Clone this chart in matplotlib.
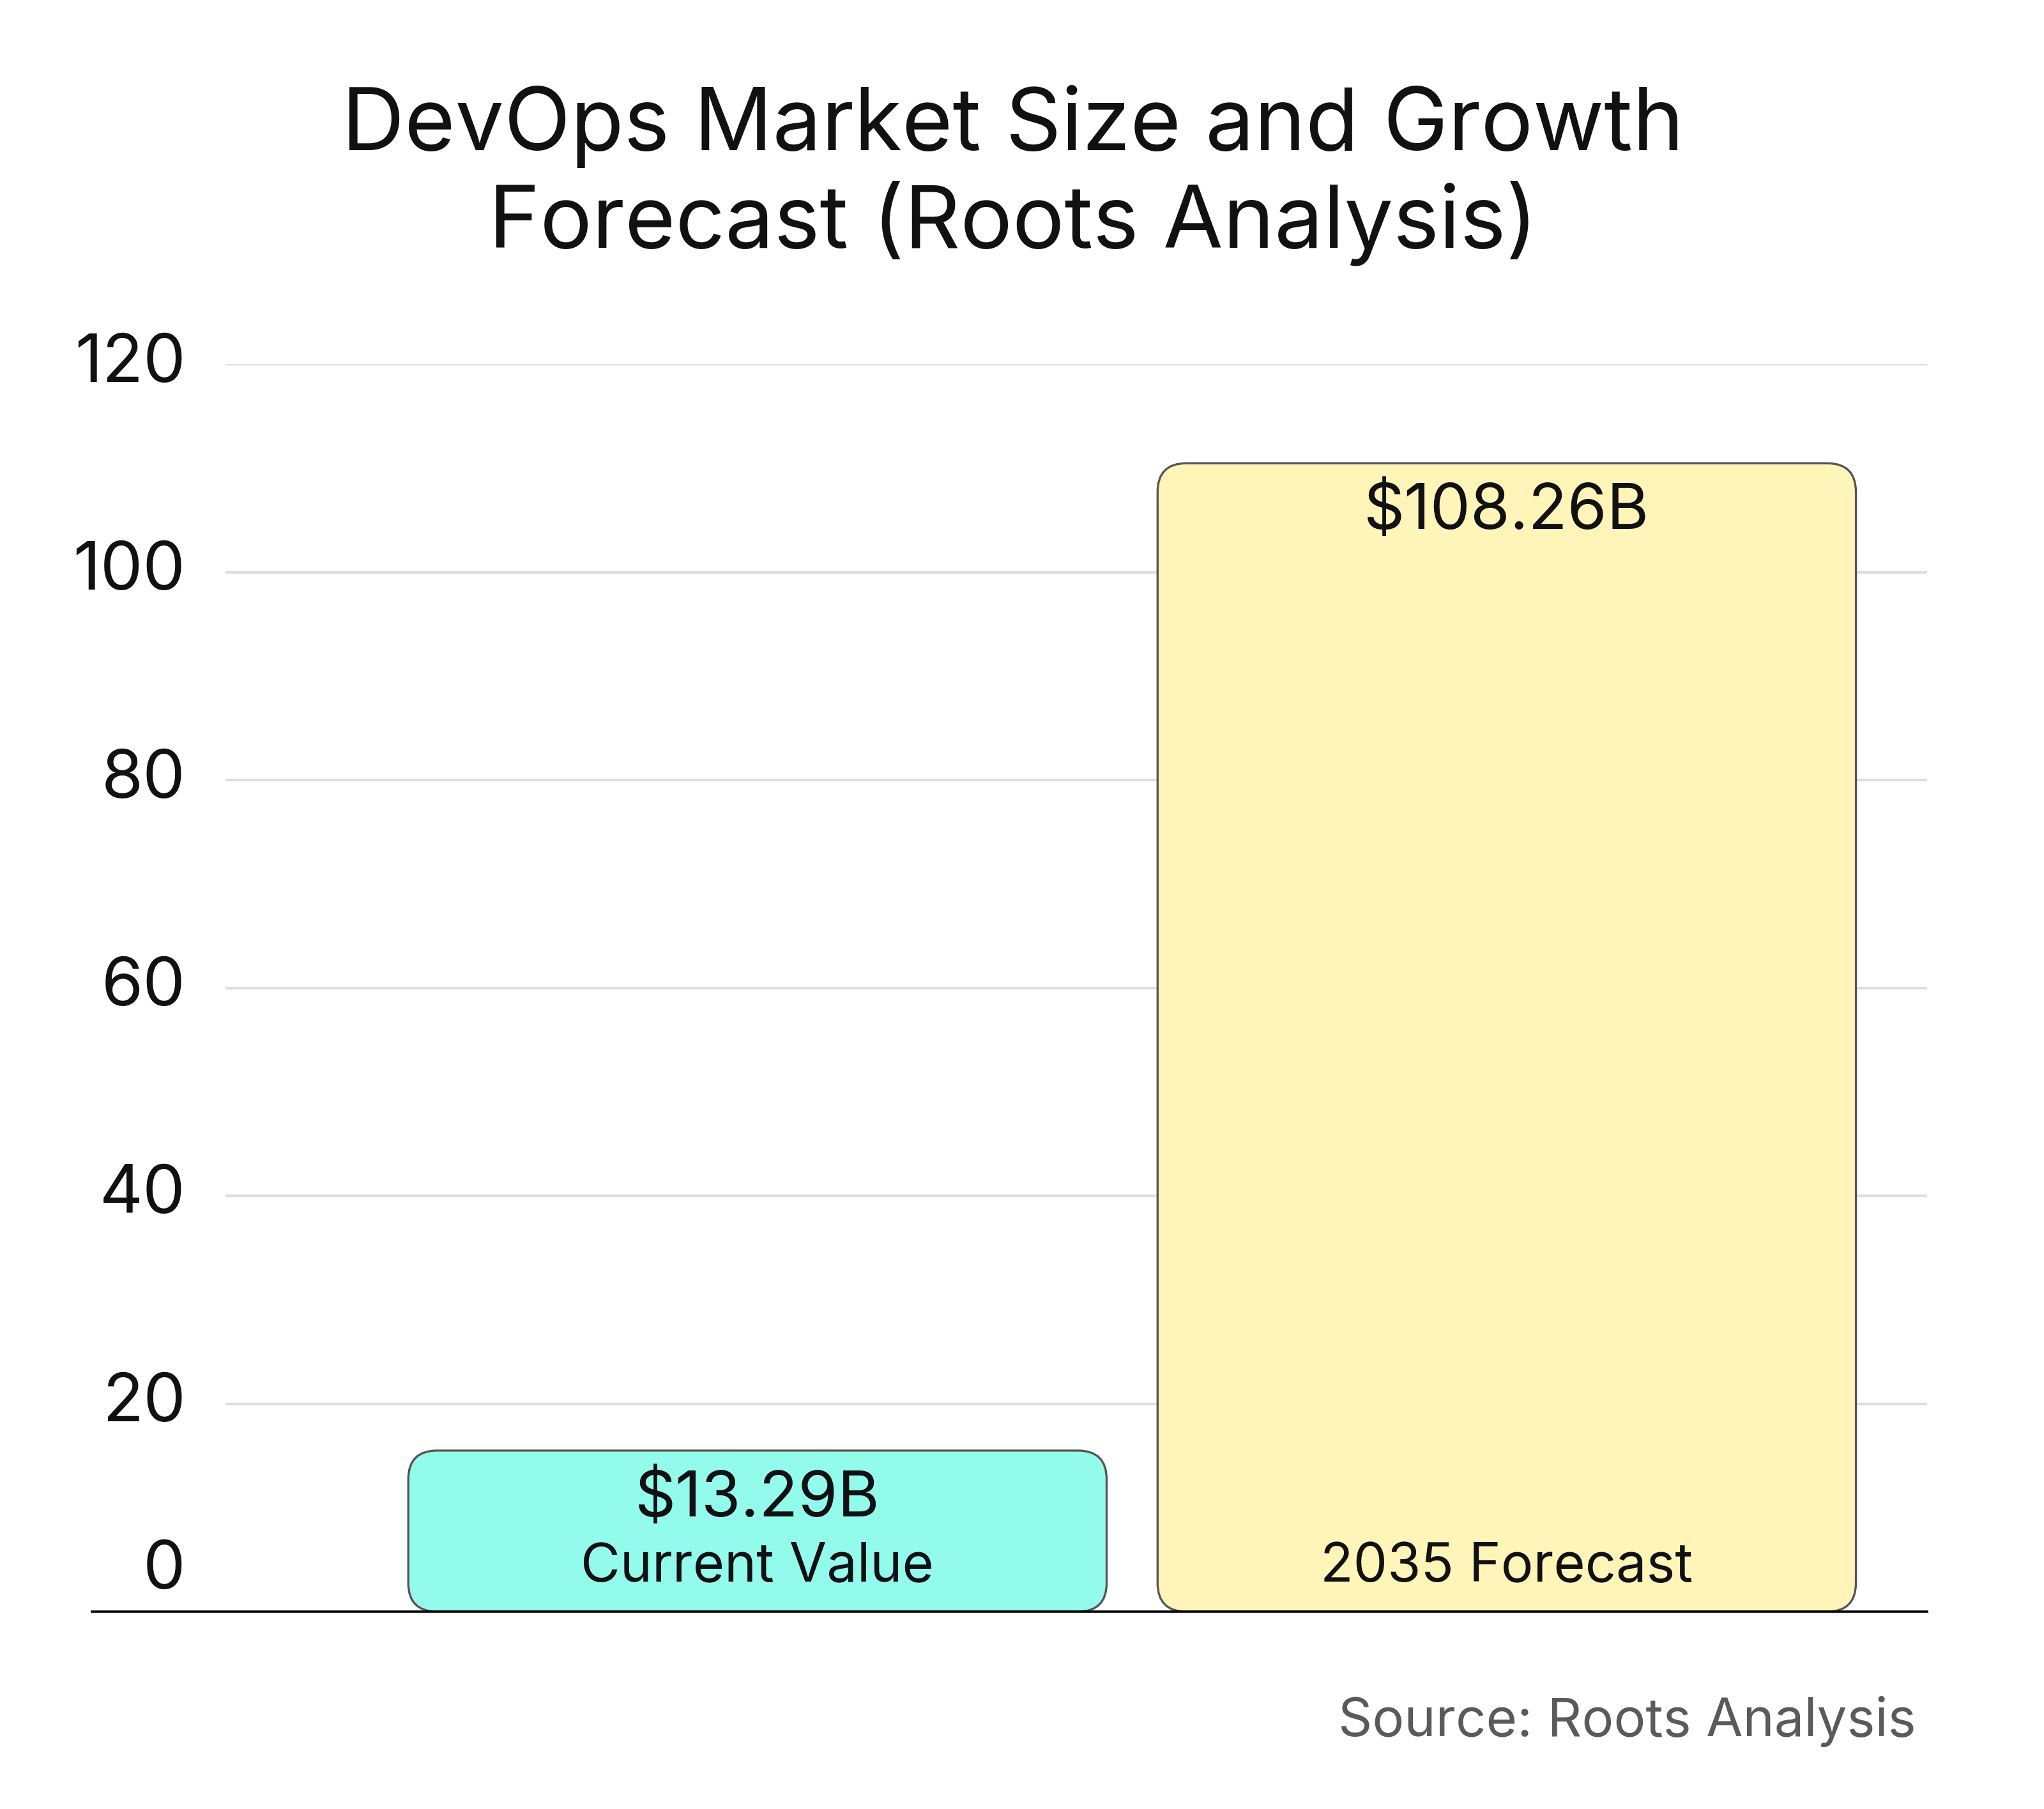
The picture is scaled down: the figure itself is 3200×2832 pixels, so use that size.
import matplotlib
matplotlib.use("Agg")
import matplotlib.pyplot as plt
from matplotlib.patches import FancyBboxPatch

plt.rcParams['font.family'] = ['Inter', 'DejaVu Sans']

# data
categories = ['Current Value', '2035 Forecast']
values = [13.29, 108.26]
value_labels = ['$13.29B', '$108.26B']
bar_colors = ['#93FBEC', '#FFF5B8']
y_ticks = [0, 20, 40, 60, 80, 100, 120]
title_lines = ['DevOps Market Size and Growth', 'Forecast (Roots Analysis)']
source = 'Source: Roots Analysis'

W, H, DPI = 3200, 2832, 200
fig = plt.figure(figsize=(W / DPI, H / DPI), dpi=DPI)
fig.patch.set_facecolor('white')

# axes box in pixel terms of the reference
ax_l, ax_r, ax_b, ax_t = 353, 3017, 2523, 570
ax = fig.add_axes([ax_l / W, 1 - ax_b / H, (ax_r - ax_l) / W, (ax_b - ax_t) / H])
ax.set_xlim(-0.710, 1.561)
ax.set_ylim(0, 120)
ax.axis('off')

txt = '#111114'

# gridlines
for v in y_ticks[1:]:
    ax.axhline(v, color='#dedede', lw=1.5, zorder=0)
# baseline, runs a bit further left than the grid
ax.axhline(0, xmin=(144 - ax_l) / (ax_r - ax_l), xmax=1, color='black',
           lw=1.3, zorder=4, clip_on=False)

# y labels
for v in y_ticks:
    dy = 22.7 if v == 0 else 0
    ax.annotate(str(v), xy=(-0.0235, v), xycoords=('axes fraction', 'data'),
                xytext=(0, dy), textcoords='offset points',
                ha='right', va='center', fontsize=38, color=txt)

# rounded bars
bar_w = 0.932
headroom = 2.2
fig.canvas.draw()
p0 = ax.transData.transform((0, 0))
p1 = ax.transData.transform((1, 1))
aspect = (p1[0] - p0[0]) / (p1[1] - p0[1])
r = 45 / (p1[0] - p0[0])
for i, (val, col) in enumerate(zip(values, bar_colors)):
    top = val + headroom
    box = FancyBboxPatch((i - bar_w / 2, 0), bar_w, top,
                         boxstyle='round,pad=0,rounding_size=%f' % r,
                         mutation_aspect=aspect,
                         facecolor=col, edgecolor='#555555', lw=1.2, zorder=2)
    ax.add_patch(box)
    ax.annotate(value_labels[i], xy=(i, top), xytext=(0, -37),
                textcoords='offset points', ha='center', va='baseline',
                fontsize=36, color=txt, zorder=5)
    ax.text(i, 2.9, categories[i], ha='center', va='baseline',
            fontsize=30.5, color=txt, zorder=5)

# title
fig.text(0.4955, 1 - 235 / H, title_lines[0], ha='center', va='baseline',
         fontsize=49, color=txt)
fig.text(0.4955, 1 - 388 / H, title_lines[1], ha='center', va='baseline',
         fontsize=49, color=txt)

fig.text(3000 / W, 1 - 2718 / H, source, ha='right', va='baseline',
         fontsize=30, color='#5a5a5a')

fig.savefig('out.png', dpi=DPI, facecolor='white')
